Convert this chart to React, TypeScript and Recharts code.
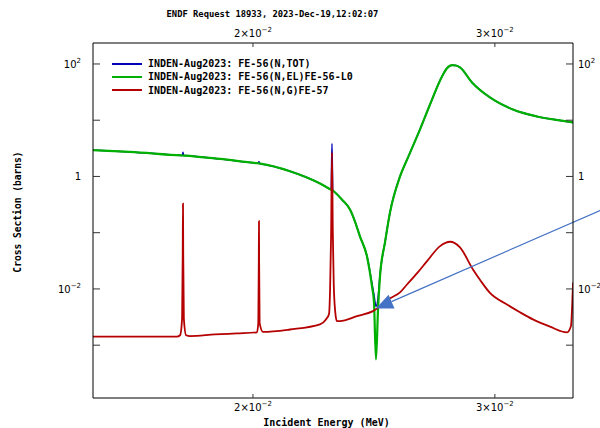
import React from 'react';
import { LineChart, Line, XAxis, YAxis, ReferenceLine, Legend } from 'recharts';

const chartTitle = 'ENDF Request 18933, 2023-Dec-19,12:02:07';
const xTitle = 'Incident Energy (MeV)';
const yTitle = 'Cross Section (barns)';

const seriesNames = [
  'INDEN-Aug2023: FE-56(N,TOT)',
  'INDEN-Aug2023: FE-56(N,EL)FE-56-L0',
  'INDEN-Aug2023: FE-56(N,G)FE-57',
];
const seriesColors = ['#0000b4', '#00b000', '#b40000'];

const xDomain = [0.015296, 0.034198];
const yDomain = [1.15e-4, 236];
const xTicks = [0.02, 0.03];
const xTickLabels = [['2×10', '−2'], ['3×10', '−2']];
const yTicks = [1e-3, 1e-2, 0.1, 1, 10, 100];
const yMajorTicks = [1e-2, 1, 100];
const yMajorLabels = [['10', '−2'], ['1', ''], ['10', '2']];

// (N,TOT)
const totEnergy = [
  0.015296, 0.016272, 0.01774, 0.01777, 0.017786, 0.017802, 0.01783, 0.018924, 0.02016,
  0.020186, 0.020202, 0.020218, 0.02025, 0.02128, 0.021892, 0.022376, 0.02277, 0.0228,
  0.022832, 0.022864, 0.0229, 0.023214, 0.023532, 0.02373, 0.023928, 0.024212, 0.024416,
  0.024498, 0.02458, 0.024664, 0.024746, 0.024954, 0.025164, 0.02559, 0.025936, 0.026462,
  0.02691, 0.027456, 0.027676, 0.02792, 0.028108, 0.028296, 0.028872, 0.029754, 0.030924,
  0.032194, 0.03346, 0.034198,
];
const totXs = [
  2.935, 2.73, 2.365, 2.36, 2.7, 2.355, 2.35, 2.05, 1.715,
  1.71, 1.85, 1.7, 1.69, 1.24, 0.96, 0.751, 0.59, 0.58,
  3.86, 0.563, 0.545, 0.39, 0.259, 0.158, 0.0858, 0.0385, 0.0125,
  0.0078, 0.0049, 0.0068, 0.018, 0.0678, 0.23, 1.0, 2.18, 6.85,
  19.05, 59.9, 83.2, 95.2, 94, 86.7, 46.9, 25.4, 15.5,
  11.66, 9.9, 9.12,
];

// (N,EL)
const elEnergy = [
  0.015296, 0.016272, 0.01774, 0.01777, 0.017786, 0.017802, 0.01783, 0.018924, 0.02016,
  0.020186, 0.020202, 0.020218, 0.02025, 0.02128, 0.021892, 0.022376, 0.02277, 0.0228,
  0.022832, 0.022864, 0.0229, 0.023214, 0.023532, 0.02373, 0.023928, 0.024212, 0.024416,
  0.024498, 0.02458, 0.024664, 0.024746, 0.024954, 0.025164, 0.02559, 0.025936, 0.026462,
  0.02691, 0.027456, 0.027676, 0.02792, 0.028108, 0.028296, 0.028872, 0.029754, 0.030924,
  0.032194, 0.03346, 0.034198,
];
const elXs = [
  2.935, 2.73, 2.365, 2.36, 2.36, 2.355, 2.35, 2.05, 1.715,
  1.71, 1.705, 1.7, 1.69, 1.24, 0.96, 0.751, 0.59, 0.58,
  0.571, 0.563, 0.545, 0.39, 0.259, 0.158, 0.0858, 0.0378, 0.01108,
  0.00575, 0.000558, 0.00432, 0.0167, 0.0671, 0.229, 1.0, 2.18, 6.85,
  19.05, 59.9, 83.2, 95.2, 94, 86.7, 46.9, 25.4, 15.5,
  11.66, 9.9, 9.12,
];

// (N,G)
const ngEnergy = [
  0.015296, 0.01761, 0.0177, 0.01776, 0.017778, 0.017786, 0.017794, 0.017812, 0.01788,
  0.017996, 0.018766, 0.019472, 0.020134, 0.02018, 0.020196, 0.020202, 0.020208, 0.020224,
  0.020338, 0.02128, 0.022376, 0.022602, 0.02272, 0.02276, 0.0228, 0.022832, 0.022864,
  0.0229, 0.02296, 0.02302, 0.023136, 0.023808, 0.024456, 0.025164, 0.02559, 0.025892,
  0.026374, 0.026776, 0.027368, 0.02783, 0.028296, 0.02892, 0.02931, 0.029754, 0.030614,
  0.031288, 0.031978, 0.032904, 0.033854, 0.034082, 0.03415, 0.0342,
];
const ngXs = [
  0.00142, 0.00142, 0.0015, 0.003, 0.04, 0.33, 0.04, 0.003, 0.0015,
  0.00145, 0.00155, 0.00162, 0.00169, 0.0025, 0.03, 0.16, 0.03, 0.0025,
  0.00172, 0.0019, 0.00234, 0.00287, 0.0036, 0.01, 0.1, 2.67, 0.1,
  0.012, 0.0038, 0.00268, 0.00268, 0.00328, 0.00403, 0.0068, 0.0087, 0.012,
  0.0199, 0.0312, 0.0577, 0.069, 0.0547, 0.0222, 0.0137, 0.00849, 0.0053,
  0.00385, 0.00287, 0.00213, 0.001685, 0.00219, 0.005, 0.013,
];

const arrowTail = { x: 0.035786, y: 0.2486 };
const arrowTip = { x: 0.02458, y: 0.0045 };

const toRows = (es: number[], vs: number[]) => es.map((e, i) => ({ e, v: vs[i] }));
const totData = toRows(totEnergy, totXs);
const elData = toRows(elEnergy, elXs);
const ngData = toRows(ngEnergy, ngXs);

const tickFont = { fontFamily: '"DejaVu Sans", sans-serif', fontSize: 10, fill: '#000' };
const monoBold = '"DejaVu Sans Mono", monospace';

const findIdx = (arr: number[], v: number) => arr.findIndex((t) => Math.abs(t - v) / t < 1e-6);

const LeftTick = (props: any) => {
  const { x, y, payload } = props;
  const i = findIdx(yMajorTicks, payload.value);
  return (
    <g>
      <line x1={x} y1={y} x2={x + 7} y2={y} stroke="#333" />
      {i >= 0 && (
        <text x={x - 12} y={y + 4} textAnchor="end" {...tickFont}>
          {yMajorLabels[i][0]}
          {yMajorLabels[i][1] && <tspan dy={-5} fontSize={7}>{yMajorLabels[i][1]}</tspan>}
        </text>
      )}
    </g>
  );
};

const RightTick = (props: any) => {
  const { x, y, payload } = props;
  const i = findIdx(yMajorTicks, payload.value);
  return (
    <g>
      <line x1={x - 7} y1={y} x2={x} y2={y} stroke="#333" />
      {i >= 0 && (
        <text x={x + 5} y={y + 4} textAnchor="start" {...tickFont}>
          {yMajorLabels[i][0]}
          {yMajorLabels[i][1] && <tspan dy={-5} fontSize={7}>{yMajorLabels[i][1]}</tspan>}
        </text>
      )}
    </g>
  );
};

const BottomTick = (props: any) => {
  const { x, y, payload } = props;
  const i = findIdx(xTicks, payload.value);
  return (
    <g>
      <line x1={x} y1={y - 4} x2={x} y2={y} stroke="#333" />
      {i >= 0 && (
        <text x={x} y={y + 13} textAnchor="middle" {...tickFont}>
          {xTickLabels[i][0]}
          <tspan dy={-5} fontSize={7}>{xTickLabels[i][1]}</tspan>
        </text>
      )}
    </g>
  );
};

const TopTick = (props: any) => {
  const { x, y, payload } = props;
  const i = findIdx(xTicks, payload.value);
  return (
    <g>
      <line x1={x} y1={y} x2={x} y2={y + 4} stroke="#333" />
      {i >= 0 && (
        <text x={x} y={y - 6} textAnchor="middle" {...tickFont}>
          {xTickLabels[i][0]}
          <tspan dy={-5} fontSize={7}>{xTickLabels[i][1]}</tspan>
        </text>
      )}
    </g>
  );
};

const ArrowShape = (p: any) => {
  const { x1, y1, x2, y2 } = p;
  const dx = x1 - x2;
  const dy = y1 - y2;
  const len = Math.hypot(dx, dy) || 1;
  const ux = dx / len;
  const uy = dy / len;
  const L = 17;
  const W = 7.5;
  const bx = x2 + ux * L;
  const by = y2 + uy * L;
  const pts = `${x2},${y2} ${bx - uy * W},${by + ux * W} ${bx + uy * W},${by - ux * W}`;
  return (
    <g>
      <line x1={x1} y1={y1} x2={bx} y2={by} stroke="#4472c4" strokeWidth={1.2} />
      <polygon points={pts} fill="#4472c4" />
    </g>
  );
};

const LegendContent = (props: any) => {
  const payload = [...(props.payload || [])].sort(
    (a: any, b: any) => seriesNames.indexOf(a.value) - seriesNames.indexOf(b.value)
  );
  return (
    <div style={{ fontFamily: monoBold, fontWeight: 'bold', fontSize: 10, color: '#000' }}>
      {payload.map((p: any, i: number) => (
        <div key={i} style={{ display: 'flex', alignItems: 'center', height: 13.3, whiteSpace: 'nowrap' }}>
          <svg width={30} height={4} style={{ display: 'block' }}>
            <line x1={0} y1={2} x2={30} y2={2} stroke={p.color} strokeWidth={2} />
          </svg>
          <span style={{ marginLeft: 6 }}>{p.value}</span>
        </div>
      ))}
    </div>
  );
};

export default function App() {
  return (
    <div style={{ position: 'absolute', left: 0, top: 0, width: 600, height: 428, background: '#fff' }}>
      <LineChart width={600} height={428} margin={{ top: 0, right: 0, bottom: 0, left: 0 }}>
        <XAxis
          xAxisId="b"
          dataKey="e"
          type="number"
          scale="log"
          domain={xDomain}
          allowDataOverflow
          ticks={xTicks}
          height={30}
          orientation="bottom"
          axisLine={{ stroke: '#000' }}
          tickLine={false}
          tickSize={0}
          tickMargin={0}
          tick={<BottomTick />}
          interval={0}
        />
        <XAxis
          xAxisId="t"
          dataKey="e"
          type="number"
          scale="log"
          domain={xDomain}
          allowDataOverflow
          ticks={xTicks}
          height={43}
          orientation="top"
          axisLine={{ stroke: '#000' }}
          tickLine={false}
          tickSize={0}
          tickMargin={0}
          tick={<TopTick />}
          interval={0}
        />
        <YAxis
          yAxisId="l"
          type="number"
          scale="log"
          domain={yDomain}
          allowDataOverflow
          ticks={yTicks}
          width={93}
          orientation="left"
          axisLine={{ stroke: '#000' }}
          tickLine={false}
          tickSize={0}
          tickMargin={0}
          tick={<LeftTick />}
          interval={0}
        />
        <YAxis
          yAxisId="r"
          type="number"
          scale="log"
          domain={yDomain}
          allowDataOverflow
          ticks={yTicks}
          width={27}
          orientation="right"
          axisLine={{ stroke: '#000' }}
          tickLine={false}
          tickSize={0}
          tickMargin={0}
          tick={<RightTick />}
          interval={0}
        />
        <Legend
          content={LegendContent}
          layout="vertical"
          verticalAlign="middle"
          align="center"
          wrapperStyle={{ position: 'absolute', left: 112, top: 57, width: 'auto', height: 'auto' }}
        />
        <Line data={totData} dataKey="v" xAxisId="b" yAxisId="l" name={seriesNames[0]} stroke={seriesColors[0]} strokeWidth={1.5} dot={false} type="monotone" isAnimationActive={false} />
        <Line data={elData} dataKey="v" xAxisId="b" yAxisId="l" name={seriesNames[1]} stroke={seriesColors[1]} strokeWidth={2.2} dot={false} type="monotone" isAnimationActive={false} />
        <Line data={ngData} dataKey="v" xAxisId="b" yAxisId="l" name={seriesNames[2]} stroke={seriesColors[2]} strokeWidth={1.8} dot={false} type="monotone" isAnimationActive={false} />
        <ReferenceLine
          xAxisId="b"
          yAxisId="l"
          segment={[arrowTail, arrowTip]}
          ifOverflow="visible"
          shape={ArrowShape}
        />
      </LineChart>
      <div style={{ position: 'absolute', left: 0, top: 9, width: 545, textAlign: 'center', fontFamily: monoBold, fontWeight: 'bold', fontSize: 8.8, lineHeight: '10px', color: '#000', whiteSpace: 'nowrap' }}>
        {chartTitle}
      </div>
      <div style={{ position: 'absolute', left: 0, top: 417, width: 653, textAlign: 'center', fontFamily: monoBold, fontWeight: 'bold', fontSize: 10, lineHeight: '12px', color: '#000', whiteSpace: 'nowrap' }}>
        {xTitle}
      </div>
      <div style={{ position: 'absolute', left: 17.5, top: 212, transform: 'translate(-50%, -50%) rotate(-90deg)', fontFamily: monoBold, fontWeight: 'bold', fontSize: 9.6, lineHeight: '12px', color: '#000', whiteSpace: 'nowrap' }}>
        {yTitle}
      </div>
    </div>
  );
}
